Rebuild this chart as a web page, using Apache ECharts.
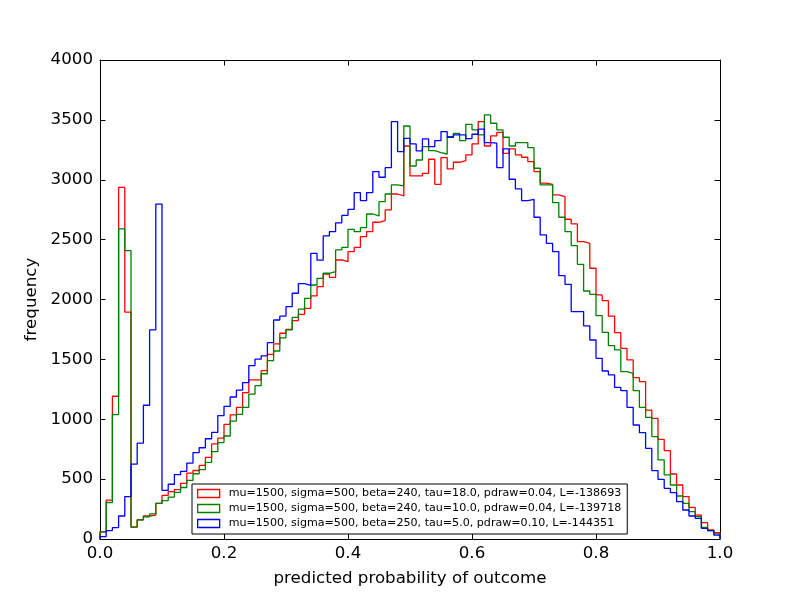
<!DOCTYPE html>
<html>
<head>
<meta charset="utf-8">
<script src="https://cdn.jsdelivr.net/npm/echarts@6/dist/echarts.min.js"></script>
<style>
  html, body { margin: 0; padding: 0; background: #fff; }
  #chart { width: 800px; height: 600px; }
</style>
</head>
<body>
<div id="chart"></div>
<script>
// 100 bins of width 0.01 on [0, 1]
const binWidth = 0.01;
const xTicks = [0.0, 0.2, 0.4, 0.6, 0.8, 1.0];
const yTicks = [0, 500, 1000, 1500, 2000, 2500, 3000, 3500, 4000];

const seriesNames = [
  'mu=1500, sigma=500, beta=240, tau=18.0, pdraw=0.04, L=-138693',
  'mu=1500, sigma=500, beta=240, tau=10.0, pdraw=0.04, L=-139718',
  'mu=1500, sigma=500, beta=250, tau=5.0, pdraw=0.10, L=-144351'
];
const seriesColors = ['#ff0000', '#008000', '#0000ff'];

const redCounts = [
  60, 325, 1192, 2936, 1895, 100, 160, 192, 200, 297,
  364, 395, 413, 465, 550, 572, 615, 682, 794, 842,
  958, 1036, 1100, 1222, 1328, 1330, 1406, 1542, 1629, 1718,
  1751, 1824, 1876, 1926, 2030, 2107, 2213, 2185, 2330, 2316,
  2400, 2436, 2525, 2567, 2645, 2659, 2748, 2881, 2865, 3282,
  3032, 3032, 3054, 3171, 2962, 3185, 3090, 3146, 3160, 3207,
  3299, 3486, 3282, 3366, 3396, 3221, 3257, 3207, 3188, 3152,
  3068, 2971, 2962, 2873, 2859, 2670, 2631, 2483, 2469, 2261,
  2038, 1991, 1862, 1723, 1592, 1495, 1347, 1314, 1077, 1008,
  832, 738, 543, 451, 354, 264, 200, 136, 75, 53
];

const greenCounts = [
  60, 305, 1039, 2589, 2408, 100, 160, 186, 209, 297,
  320, 350, 390, 430, 490, 545, 580, 640, 730, 805,
  860, 985, 1040, 1100, 1210, 1280, 1380, 1490, 1570, 1680,
  1746, 1850, 1920, 2010, 2121, 2177, 2219, 2233, 2414, 2436,
  2586, 2567, 2600, 2714, 2698, 2817, 2881, 2957, 2948, 3449,
  3115, 3165, 3277, 3243, 3227, 3215, 3360, 3388, 3327, 3463,
  3416, 3374, 3541, 3472, 3416, 3355, 3282, 3310, 3310, 3268,
  3096, 2957, 2957, 2809, 2687, 2567, 2450, 2294, 2071, 2043,
  1865, 1726, 1615, 1579, 1398, 1384, 1239, 1100, 1016, 855,
  660, 535, 451, 359, 298, 228, 187, 97, 70, 42
];

const blueCounts = [
  20, 70, 95, 192, 354, 626, 800, 1117, 1747, 2797,
  406, 457, 538, 565, 634, 722, 762, 837, 890, 1030,
  1108, 1186, 1244, 1306, 1448, 1502, 1530, 1640, 1829, 1862,
  1940, 2052, 2132, 2118, 2386, 2328, 2531, 2567, 2640, 2702,
  2753, 2893, 2826, 2893, 3068, 3021, 3101, 3486, 3235, 3346,
  3299, 3241, 3341, 3277, 3327, 3402, 3355, 3375, 3375, 3344,
  3380, 3422, 3310, 3305, 3101, 3257, 3004, 2923, 2826, 2837,
  2687, 2539, 2469, 2400, 2199, 2127, 1899, 1899, 1780, 1662,
  1509, 1403, 1370, 1267, 1239, 1100, 952, 888, 757, 571,
  498, 423, 387, 312, 242, 192, 173, 89, 70, 33
];

const allCounts = [redCounts, greenCounts, blueCounts];

// Build step-histogram outline points (bin edge, count)
function stepPoints(counts) {
  const pts = [[0, 0]];
  counts.forEach((c, i) => pts.push([+(i * binWidth).toFixed(2), c]));
  const last = counts[counts.length - 1];
  const end = +(counts.length * binWidth).toFixed(2);
  pts.push([end, last]);
  pts.push([end, 0]);
  return pts;
}

const FONT = 'DejaVu Sans';
const tickFs = 16.67;

const chart = echarts.init(document.getElementById('chart'), null, { renderer: 'canvas' });

const series = allCounts.map((counts, k) => ({
  name: seriesNames[k],
  type: 'line',
  step: 'end',
  data: stepPoints(counts),
  showSymbol: false,
  symbol: 'none',
  color: seriesColors[k],
  lineStyle: { color: seriesColors[k], width: 1.3 },
  itemStyle: { color: seriesColors[k] },
  emphasis: { disabled: true },
  silent: true,
  z: 2 + k,
  xAxisIndex: 0,
  yAxisIndex: 0
}));

const axisLineStyle = { show: true, onZero: false, lineStyle: { color: '#000', width: 1 } };
const tickStyle = { show: true, inside: true, length: 5.5, lineStyle: { color: '#000', width: 1 } };

chart.setOption({
  animation: false,
  backgroundColor: '#fff',
  textStyle: { fontFamily: FONT },
  grid: { left: 100, top: 60, width: 620, height: 479, containLabel: false },
  legend: {
    orient: 'vertical',
    left: 192,
    top: 484,
    padding: [2, 6, 3, 5],
    itemGap: 0,
    itemWidth: 22,
    itemHeight: 8,
    icon: 'rect',
    backgroundColor: '#fff',
    borderColor: '#000',
    borderWidth: 1,
    borderRadius: 0,
    selectedMode: false,
    textStyle: { fontFamily: FONT, fontSize: 11.1, color: '#000', lineHeight: 15, padding: [0, 0, 0, 4] },
    data: seriesNames.map((n, k) => ({
      name: n,
      icon: 'rect',
      itemStyle: { color: '#fff', borderColor: seriesColors[k], borderWidth: 1.3 }
    })),
    z: 10
  },
  xAxis: [
    {
      type: 'value', min: 0, max: 1, interval: 0.2,
      position: 'bottom',
      name: 'predicted probability of outcome',
      nameLocation: 'middle',
      nameGap: 31,
      nameTextStyle: { fontFamily: FONT, fontSize: tickFs, color: '#000' },
      axisLine: axisLineStyle,
      axisTick: tickStyle,
      splitLine: { show: false },
      axisLabel: {
        fontFamily: FONT, fontSize: tickFs, color: '#000', margin: 6,
        formatter: v => xTicks.includes(+v.toFixed(1)) ? v.toFixed(1) : ''
      }
    },
    {
      type: 'value', min: 0, max: 1, interval: 0.2,
      position: 'top',
      axisLine: axisLineStyle,
      axisTick: tickStyle,
      splitLine: { show: false },
      axisLabel: { show: false }
    }
  ],
  yAxis: [
    {
      type: 'value', min: 0, max: 4000, interval: 500,
      position: 'left',
      name: 'frequency',
      nameLocation: 'middle',
      nameGap: 57,
      nameTextStyle: { fontFamily: FONT, fontSize: tickFs, color: '#000' },
      axisLine: axisLineStyle,
      axisTick: tickStyle,
      splitLine: { show: false },
      axisLabel: {
        fontFamily: FONT, fontSize: tickFs, color: '#000', margin: 7,
        formatter: v => yTicks.includes(v) ? String(v) : ''
      }
    },
    {
      type: 'value', min: 0, max: 4000, interval: 500,
      position: 'right',
      axisLine: axisLineStyle,
      axisTick: tickStyle,
      splitLine: { show: false },
      axisLabel: { show: false }
    }
  ],
  series: series
});
</script>
</body>
</html>
